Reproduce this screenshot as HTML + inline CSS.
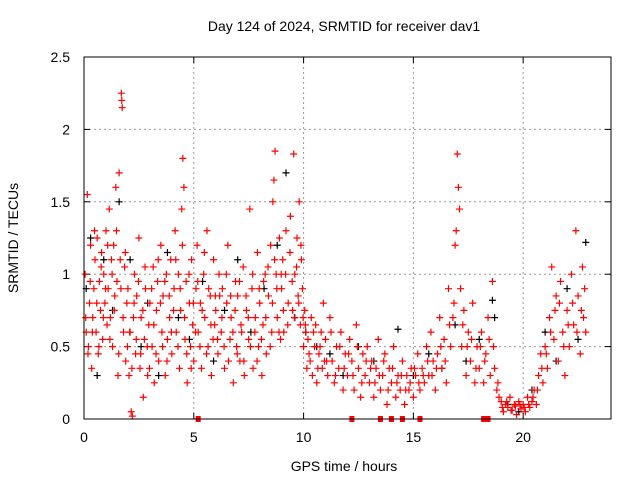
<!DOCTYPE html>
<html><head><meta charset="utf-8"><style>
body{margin:0;background:#fff;}
svg{display:block;font-family:"Liberation Sans",sans-serif;}
</style></head><body>
<svg id="chart" width="640" height="480">
<text x="344" y="31" font-size="14" text-anchor="middle">Day 124 of 2024, SRMTID for receiver dav1</text>
<text x="344" y="471" font-size="14" text-anchor="middle">GPS time / hours</text>
<text transform="translate(18,238) rotate(-90)" font-size="14" text-anchor="middle">SRMTID / TECUs</text>
<g id="grid"></g>
<g id="ticks"></g>
<g id="black"></g>
<g id="red"></g>
<rect x="84" y="57" width="527" height="362" fill="none" stroke="#000" stroke-width="1"/>
</svg>
<script>
const xTicks=[0,5,10,15,20];
const yTicks=[0,0.5,1,1.5,2,2.5];
const yTickLabels=["0","0.5","1","1.5","2","2.5"];
const redT=[0.05,0.1,0.15,0.2,0.25,0.3,0.35,0.4,0.45,0.5,0.55,0.6,0.65,0.7,0.75,0.8,0.85,0.9,0.95,
1.0,1.05,1.1,1.15,1.2,1.25,1.3,1.35,1.4,1.45,1.5,1.55,1.6,1.65,1.7,1.72,1.74,1.8,1.85,1.9,1.95,
2.0,2.05,2.1,2.15,2.2,2.25,2.3,2.35,2.4,2.5,2.55,2.6,2.7,2.75,2.8,2.9,2.95,
3.0,3.1,3.15,3.2,3.3,3.35,3.4,3.5,3.55,3.6,3.7,3.75,3.8,3.9,3.95,
4.0,4.1,4.15,4.2,4.3,4.35,4.4,4.45,4.5,4.55,4.6,4.65,4.7,4.8,4.85,4.9,4.95,
5.0,5.1,5.15,5.2,5.3,5.35,5.45,5.5,5.6,5.65,5.75,5.8,5.9,5.95,
6.0,6.1,6.15,6.25,6.3,6.4,6.5,6.55,6.65,6.7,6.8,6.9,6.95,
7.0,7.1,7.15,7.25,7.3,7.4,7.5,7.55,7.65,7.7,7.8,7.9,7.95,
8.0,8.1,8.15,8.25,8.3,8.4,8.5,8.55,8.6,8.65,8.7,8.75,8.8,8.9,8.95,
9.0,9.05,9.1,9.2,9.3,9.4,9.5,9.55,9.6,9.7,9.75,9.8,9.85,9.9,9.95,
10.0,10.05,10.1,10.15,10.2,10.3,10.35,10.4,10.5,10.55,10.6,10.7,10.8,10.85,10.9,10.95,
11.0,11.1,11.2,11.3,11.4,11.5,11.6,11.7,11.8,11.9,
12.0,12.1,12.2,12.3,12.4,12.5,12.6,12.7,12.8,12.9,
13.0,13.1,13.2,13.3,13.4,13.5,13.6,13.7,13.8,13.9,
14.0,14.1,14.2,14.3,14.4,14.5,14.6,14.7,14.8,14.9,
15.0,15.1,15.2,15.3,15.4,15.5,15.6,15.7,15.8,15.9,
16.0,16.1,16.2,16.3,16.4,16.5,16.6,16.7,16.8,16.9,16.95,
17.0,17.05,17.1,17.15,17.2,17.3,17.4,17.5,17.6,17.7,17.8,17.9,
18.0,18.1,18.2,18.3,18.4,18.5,18.6,18.7,18.8,18.9,
19.0,19.1,19.2,19.3,19.4,19.5,19.6,19.7,19.8,19.9,
20.0,20.1,20.2,20.3,20.4,20.5,20.6,20.7,20.8,20.9,
21.0,21.1,21.2,21.3,21.4,21.5,21.6,21.7,21.8,21.9,
22.0,22.1,22.2,22.3,22.4,22.5,22.6,22.7,22.75,22.8];
const redV=[1.0,0.6,1.55,0.5,0.8,1.2,0.35,0.7,0.9,1.1,0.6,1.25,0.45,0.95,0.75,1.15,0.55,1.0,0.8,
1.3,0.65,0.9,1.45,0.7,1.1,0.5,1.2,0.85,1.6,0.95,0.3,1.7,1.1,2.25,2.2,2.15,0.6,1.05,0.4,0.8,
0.9,0.3,0.6,0.05,0.02,0.7,1.0,0.45,0.85,1.25,0.35,0.7,0.15,0.55,0.9,0.3,0.65,
0.8,0.5,1.05,0.25,0.75,0.95,0.4,1.2,0.6,0.85,0.3,1.0,0.55,0.7,1.1,
0.45,0.9,1.3,0.6,1.0,0.35,0.75,1.45,1.8,1.6,0.55,0.95,0.25,0.8,0.5,1.1,0.65,
0.4,0.9,1.2,0.6,0.8,0.35,1.0,0.7,1.3,0.5,0.85,0.3,1.1,0.65,
0.75,0.45,1.0,0.6,0.9,0.35,0.8,1.2,0.55,0.7,0.25,0.95,0.5,
0.85,0.4,0.65,1.05,0.3,0.75,0.55,1.45,0.9,0.35,0.7,1.15,0.5,
0.8,0.3,0.65,1.0,0.45,0.85,1.2,0.6,1.5,1.65,1.85,1.0,0.7,1.25,0.55,
0.9,1.1,0.6,1.3,0.8,1.4,0.75,1.83,1.0,1.25,0.85,1.5,0.65,1.1,0.9,
0.5,0.75,0.6,0.35,0.55,0.4,0.7,0.3,0.5,0.65,0.25,0.45,0.6,0.35,0.8,0.4,
0.55,0.3,0.7,0.4,0.25,0.5,0.35,0.6,0.2,0.45,
0.3,0.55,0.4,0.2,0.65,0.35,0.15,0.45,0.3,0.5,
0.25,0.4,0.15,0.35,0.55,0.2,0.3,0.45,0.1,0.35,
0.25,0.5,0.15,0.3,0.2,0.4,0.1,0.3,0.2,0.35,
0.15,0.3,0.45,0.2,0.35,0.25,0.5,0.3,0.6,0.4,
0.2,0.45,0.7,0.35,0.55,0.25,0.9,0.5,0.7,1.2,1.3,
1.83,1.6,1.45,0.9,0.5,0.75,0.3,0.6,0.4,0.8,0.25,0.5,
0.35,0.6,0.25,0.45,0.7,0.3,0.95,0.35,0.2,0.15,
0.12,0.05,0.1,0.08,0.15,0.06,0.1,0.03,0.12,0.07,
0.1,0.05,0.15,0.08,0.12,0.2,0.1,0.3,0.45,0.25,
0.5,0.35,0.7,1.05,0.55,0.85,0.4,0.95,0.6,0.3,
0.75,0.5,1.0,0.65,1.3,0.85,0.45,1.05,0.7,0.9];
const redT2=[0.08,0.18,0.28,0.38,0.48,0.58,0.68,0.78,0.88,0.98,1.08,1.18,1.28,1.38,1.48,1.58,1.68,1.78,1.88,1.98,
2.08,2.18,2.28,2.38,2.48,2.58,2.68,2.78,2.88,2.98,3.08,3.18,3.28,3.38,3.48,3.58,3.68,3.78,3.88,3.98,
4.08,4.18,4.28,4.38,4.48,4.58,4.68,4.78,4.88,4.98,5.08,5.18,5.28,5.38,5.48,5.58,5.68,5.78,5.88,5.98,
6.08,6.18,6.28,6.38,6.48,6.58,6.68,6.78,6.88,6.98,7.08,7.18,7.28,7.38,7.48,7.58,7.68,7.78,7.88,7.98,
8.08,8.18,8.28,8.38,8.48,8.58,8.68,8.78,8.88,8.98,9.08,9.18,9.28,9.38,9.48,9.58,9.68,9.78,9.88,9.98,
10.08,10.25,10.45,10.65,10.75,11.05,11.25,11.45,11.65,11.85,12.05,12.25,12.45,12.65,12.85,13.05,13.25,13.45,13.65,13.85,
14.05,14.25,14.45,14.65,14.85,15.05,15.25,15.45,15.65,15.85,16.05,16.25,16.45,16.65,16.85,17.25,17.45,17.65,17.85,18.05,
18.25,18.45,18.65,18.85,19.05,19.25,19.45,19.65,19.85,20.05,20.25,20.45,20.65,20.85,21.05,21.25,21.45,21.65,21.85,22.05,
22.25,22.45,22.65,22.85];
const redV2=[0.7,0.45,0.95,0.6,1.3,0.8,0.5,1.05,0.7,0.9,1.2,0.55,1.0,0.75,1.3,0.45,0.9,0.7,1.15,0.5,
0.6,0.35,0.8,0.55,0.95,0.45,0.75,1.05,0.5,0.35,0.9,0.65,0.45,1.1,0.8,0.5,0.95,0.4,0.85,0.6,
0.75,1.1,0.5,0.9,1.2,0.7,0.45,1.0,0.35,0.8,0.6,0.95,0.5,0.75,1.15,0.45,0.9,0.65,0.55,0.85,
0.55,0.85,0.7,0.5,1.0,0.4,0.85,0.6,0.75,0.45,0.95,0.6,0.4,0.85,0.7,0.5,1.0,0.6,0.4,0.9,
0.55,0.95,0.7,1.05,0.5,0.8,1.1,0.9,0.6,1.0,0.75,1.0,0.65,1.15,0.95,0.7,1.05,0.8,1.2,0.7,
0.65,0.45,0.6,0.35,0.5,0.4,0.6,0.3,0.5,0.35,0.45,0.3,0.5,0.25,0.4,0.35,0.25,0.3,0.4,0.2,
0.35,0.25,0.3,0.2,0.25,0.35,0.25,0.3,0.4,0.3,0.35,0.5,0.4,0.65,0.8,0.65,0.5,0.55,0.35,0.5,
0.4,0.55,0.5,0.25,0.08,0.12,0.06,0.09,0.1,0.08,0.1,0.15,0.2,0.35,0.45,0.6,0.75,0.8,0.5,0.65,
0.8,0.6,0.75,0.6];
const blackT=[0.1,0.3,0.6,0.9,1.3,1.6,2.1,2.6,2.9,3.4,3.8,4.3,4.8,5.4,5.9,6.4,7.0,7.6,8.2,8.8,9.2,9.6,10.1,10.6,11.2,11.8,12.5,13.2,14.3,15.0,15.7,16.3,16.9,17.4,18.0,18.6,18.7,19.3,19.8,20.4,21.0,21.5,22.0,22.5,22.85];
const blackV=[0.9,1.25,0.3,1.1,0.75,1.5,1.1,0.5,0.8,0.3,1.15,0.7,0.55,0.95,0.4,0.75,1.1,0.6,0.9,1.2,1.7,0.7,0.6,0.5,0.45,0.3,0.5,0.4,0.62,0.3,0.45,0.35,0.65,0.4,0.55,0.82,0.7,0.1,0.05,0.2,0.6,0.4,0.9,0.55,1.22];
const zeroT=[5.2,12.2,13.5,14.0,14.5,15.3,18.2,18.4];

const NS="http://www.w3.org/2000/svg";
const X0=84,X1=611,Y0=419,Y1=57,XMAX=24,YMAX=2.5;
function sx(v){return X0+(X1-X0)*v/XMAX;}
function sy(v){return Y0-(Y0-Y1)*v/YMAX;}
function mk(tag,attrs,parent){const e=document.createElementNS(NS,tag);for(const k in attrs)e.setAttribute(k,attrs[k]);parent.appendChild(e);return e;}
const grid=document.getElementById('grid'),ticks=document.getElementById('ticks');
xTicks.forEach(t=>{
  const x=sx(t);
  if(t>0){const g=mk('line',{x1:x,x2:x,y1:Y0,y2:Y1,stroke:'#999','stroke-dasharray':'2,3'},grid);
  
  }
  mk('line',{x1:x,x2:x,y1:Y0,y2:Y0-6,stroke:'#000'},ticks);
  mk('line',{x1:x,x2:x,y1:Y1,y2:Y1+6,stroke:'#000'},ticks);
  const l=mk('text',{x:x,y:Y0+23,'font-size':14,'text-anchor':'middle'},ticks);l.textContent=t;
  
  
});
yTicks.forEach((t,i)=>{
  const y=sy(t);
  if(t>0&&t<YMAX){const g=mk('line',{x1:X0,x2:X1,y1:y,y2:y,stroke:'#999','stroke-dasharray':'2,3'},grid);
  
  }
  mk('line',{x1:X0,x2:X0+6,y1:y,y2:y,stroke:'#000'},ticks);
  mk('line',{x1:X1,x2:X1-6,y1:y,y2:y,stroke:'#000'},ticks);
  const l=mk('text',{x:X0-14,y:y+5,'font-size':14,'text-anchor':'end'},ticks);l.textContent=yTickLabels[i];
  
  
});
function plus(g,t,v,c){
  const x=sx(t),y=sy(v);
  const p=mk('path',{d:`M${x-3.5},${y}H${x+3.5}M${x},${y-3.5}V${y+3.5}`,stroke:c,'stroke-width':1.2,fill:'none'},g);
  
  
}
const bg=document.getElementById('black'),rg=document.getElementById('red');
blackT.forEach((t,i)=>plus(bg,t,blackV[i],'#000'));
redT.forEach((t,i)=>plus(rg,t,redV[i],'#f00'));
redT2.forEach((t,i)=>plus(rg,t,redV2[i],'#f00'));
zeroT.forEach(t=>{
  const r=mk('rect',{x:sx(t)-2.5,y:sy(0)-3,width:5,height:6,fill:'#f00'},rg);
  
  
});
</script>
</body></html>
